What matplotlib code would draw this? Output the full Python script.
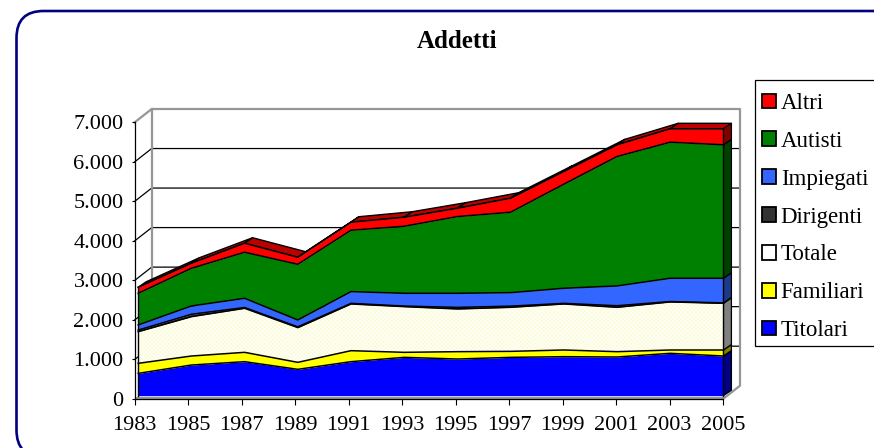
import matplotlib
matplotlib.use('Agg')
import matplotlib.pyplot as plt
import numpy as np
from matplotlib.patches import FancyBboxPatch, Polygon, Patch, Rectangle

plt.rcParams['font.family'] = ['Liberation Serif', 'DejaVu Serif']
plt.rcParams['hatch.linewidth'] = 0.5

years = ['1983','1985','1987','1989','1991','1993','1995','1997','1999','2001','2003','2005']
titolari  = [565, 776, 861, 667, 861, 970, 928, 970, 987, 979, 1072, 1004]
familiari = [254, 228, 236, 177, 278, 127, 186, 152, 169, 135, 84, 152]
totale    = [801, 996, 1114, 878, 1182, 1156, 1080, 1114, 1165, 1122, 1216, 1182]
dirigenti = [40, 60, 20, 20, 15, 15, 40, 30, 15, 40, 10, 10]
impiegati = [129, 210, 233, 174, 297, 323, 357, 341, 382, 501, 589, 623]
autisti   = [802, 954, 1165, 1409, 1553, 1696, 1941, 2035, 2633, 3274, 3443, 3376]
altri     = [152, 127, 228, 178, 203, 228, 211, 354, 321, 296, 338, 405]

names = ['Titolari','Familiari','Totale','Dirigenti','Impiegati','Autisti','Altri']
values = [titolari, familiari, totale, dirigenti, impiegati, autisti, altri]
front = ['#0000ff','#ffff00','#fffff4','#333333','#3366ff','#008000','#ff0000']
side  = ['#000080','#808000','#808080','#1a1a1a','#1c3a8c','#004000','#800000']

W, H = 874, 448
fig = plt.figure(figsize=(W/100, H/100), dpi=100)
bg = fig.add_axes([0, 0, 1, 1])
bg.set_xlim(0, W); bg.set_ylim(H, 0); bg.axis('off')
bg.add_patch(FancyBboxPatch((16.5, 11), 920, 446, boxstyle='round,pad=0,rounding_size=27',
                            fc='white', ec='#000080', lw=1.9, clip_on=True))
bg.text(457, 42, 'Addetti', ha='center', va='center', fontsize=18, fontweight='bold', color='black')
bg.add_patch(Rectangle((754.5, 80.5), 140, 265.5, fc='white', ec='black', lw=0.9, clip_on=True, zorder=5))

x0, x1, y0, y1 = 134.7, 723.0, 399.0, 122.3
ax = fig.add_axes([x0/W, 1-y0/H, (x1-x0)/W, (y0-y1)/H])
ax.set_xlim(0, 11); ax.set_ylim(0, 7000)
ax.patch.set_alpha(0)
ux, uy = 11/(x1-x0), 7000/(y0-y1)      # data units per pixel
x = np.arange(len(years), dtype=float)

# walls
wx, wy = 17*ux, 13.3*uy
gray = '#969696'
for v in [1000, 2000, 3000, 4000, 5000, 6000]:
    ax.plot([0, wx, 11+wx], [v, v+wy, v+wy], color='black', lw=0.9, clip_on=False, zorder=1)
ax.plot([0, wx, 11+wx, 11+wx, 11], [7000, 7000+wy, 7000+wy, wy, 0], color=gray, lw=1.6, clip_on=False, zorder=1.1)
ax.plot([wx, wx], [wy, 7000+wy], color=gray, lw=1.6, clip_on=False, zorder=1.1)
ax.plot([0, 11], [35, 35], color=gray, lw=2.2, clip_on=False, zorder=1.1, solid_capstyle='butt')

# series
fx, fy = 3.5*ux, 3.3*uy
dx, dy = 8*ux, 5.5*uy
cum = np.cumsum(np.array(values, dtype=float), axis=0)
px = x*(53.2/53.48) + fx
tops = cum + fy
base = np.full_like(px, fy)

# top face
for i in range(len(px)-1):
    ax.add_patch(Polygon([(px[i], tops[-1][i]), (px[i+1], tops[-1][i+1]),
                          (px[i+1]+dx, tops[-1][i+1]+dy), (px[i]+dx, tops[-1][i]+dy)],
                         fc='#bb0000', ec='black', lw=1.0, clip_on=False, zorder=2, joinstyle='round'))
# right side faces
low = base
for k in range(len(names)):
    up = tops[k]
    ax.add_patch(Polygon([(px[-1], low[-1]), (px[-1], up[-1]), (px[-1]+dx, up[-1]+dy), (px[-1]+dx, low[-1]+dy)],
                         fc=side[k], ec='black', lw=0.9, clip_on=False, zorder=2.5))
    low = up
# front faces
hatch_color = '#fbfbd0'
low = base
for k in range(len(names)):
    up = tops[k]
    if names[k] == 'Totale':
        ax.fill_between(px, low, up, facecolor='#ffffff', edgecolor=hatch_color, hatch='xxxxxxxx', lw=0, clip_on=False, zorder=3)
    else:
        ax.fill_between(px, low, up, color=front[k], lw=0, clip_on=False, zorder=3)
    ax.plot(px, up, color='black', lw=1.1, clip_on=False, zorder=3.5)
    low = up
ax.plot([px[0], px[0]], [fy, tops[-1][0]], color='black', lw=1.0, clip_on=False, zorder=3.5)
ax.plot([px[-1], px[-1]], [fy, tops[-1][-1]], color='black', lw=1.0, clip_on=False, zorder=3.5)

# axes
for s in ['top', 'right']:
    ax.spines[s].set_visible(False)
for s in ['left', 'bottom']:
    ax.spines[s].set_linewidth(0.9); ax.spines[s].set_zorder(4)
ax.set_xticks(x); ax.set_xticklabels(years)
yt = np.arange(0, 8000, 1000)
ax.set_yticks(yt); ax.set_yticklabels(['0'] + [f'{v//1000}.000' for v in yt[1:]])
ax.tick_params(axis='x', length=4.5, width=0.8, labelsize=16, pad=8)
ax.tick_params(axis='y', length=2.5, width=0.8, labelsize=16, pad=5.5)

# legend
handles = [Patch(fc=('#ffffff' if names[k] == 'Totale' else front[k]), ec='black', lw=1.3)
           for k in range(len(names))][::-1]
leg = bg.legend(handles, names[::-1], loc='upper left', bbox_to_anchor=(762/W, 1-93/H), bbox_transform=fig.transFigure,
                fontsize=16.5, frameon=False,
                handlelength=0.62, handleheight=0.62, handletextpad=0.2, labelspacing=0.735,
                borderpad=0, borderaxespad=0)
leg.set_zorder(6)
fig.savefig('out.png', dpi=100)
